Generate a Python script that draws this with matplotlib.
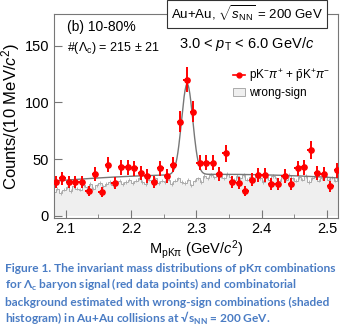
import numpy as np
import matplotlib
matplotlib.use("Agg")
import matplotlib.pyplot as plt
from matplotlib.lines import Line2D
from matplotlib.patches import Patch

plt.rcParams['font.family'] = ['Liberation Sans', 'DejaVu Sans']
plt.rcParams['mathtext.fontset'] = 'custom'
plt.rcParams['mathtext.rm'] = 'Liberation Sans'
plt.rcParams['mathtext.it'] = 'Liberation Sans:italic'
plt.rcParams['mathtext.bf'] = 'Liberation Sans:bold'

# Right-sign pK pi candidates, 10 MeV bins
mass = np.round(np.arange(2.085, 2.516, 0.01), 3)
counts = [30, 33, 30, 30, 30, 22, 37, 21, 45, 29,
          43, 43, 42, 38, 35, 30, 42, 35, 45, 83,
          120, 92, 47, 47, 47, 37, 55, 30, 29, 22,
          32, 36, 36, 28, 28, 35, 28, 42, 43, 58,
          38, 37, 26, 40]

# Wrong-sign background, 5 MeV bins (scaled)
ws_edges = np.round(np.arange(2.08, 2.5201, 0.005), 3)
ws_counts = [21, 24, 20, 23, 25, 22, 26, 24, 23,
             27, 25, 28, 24, 27, 29, 26, 28, 30, 27, 29, 31, 28, 30, 32,
             29, 31, 33, 30, 28, 32, 30, 33, 29, 31, 30, 32, 28, 31, 33, 30, 29, 32, 27, 31,
             33, 30, 35, 33, 36, 34, 38, 35, 33, 37, 34, 32,
             35, 33, 36, 32, 34, 31, 35, 33, 30, 34, 32, 35, 33, 31, 34, 32,
             36, 33, 31, 34, 32, 35, 30, 33, 34, 31, 33, 35, 32, 34, 31, 33]

# fit: gaussian peak + 2nd order polynomial background
fit_mean, fit_sigma, fit_amp = 2.286, 0.0085, 80.0
bkg_c0, bkg_c1, bkg_c2 = 36.5, 6.4, -94.4

fig = plt.figure(figsize=(3.5, 3.35), dpi=100)
ax = fig.add_axes([0.154, 0.349, 0.812, 0.609])

# wrong-sign shaded histogram
ws = np.array(ws_counts, dtype=float)
ax.stairs(ws, ws_edges, fill=True, color='#efefef', zorder=1)
ax.stairs(ws, ws_edges, color='#aaaaaa', lw=0.7, zorder=2)
ws_centers = 0.5 * (ws_edges[1:] + ws_edges[:-1])
ax.errorbar(ws_centers, ws, yerr=1.5, fmt='none', ecolor='#aaaaaa',
            elinewidth=0.6, zorder=2)

# fit curve
xf = np.linspace(2.08, 2.52, 600)
d = xf - 2.3
yf = bkg_c0 + bkg_c1 * d + bkg_c2 * d**2 + \
    fit_amp * np.exp(-0.5 * ((xf - fit_mean) / fit_sigma) ** 2)
ax.plot(xf, yf, color='#777777', lw=1.0, zorder=3)

# data points
y = np.array(counts, dtype=float)
ax.errorbar(mass, y, yerr=np.sqrt(y), xerr=0.005, fmt='o', color='red',
            ms=3.8, elinewidth=1.4, capsize=0, zorder=4)

ax.set_xlim(2.082, 2.517)
ax.set_ylim(-2, 178)
ax.set_xticks([2.1, 2.2, 2.3, 2.4, 2.5])
ax.set_xticks(np.arange(2.15, 2.5, 0.1), minor=True)
ax.set_yticks([0, 50, 100, 150])
ax.tick_params(direction='in', which='both', labelsize=10.5, color='#777777')
ax.tick_params(which='major', length=6)
ax.tick_params(which='minor', length=3)
ax.tick_params(axis='x', pad=3)
for s in ax.spines.values():
    s.set_color('#777777')

ax.set_xlabel(r'M$_{\rm pK\pi}$ (GeV/$c^2$)', fontsize=10.5, labelpad=1)
ax.set_ylabel(r'Counts/(10 MeV/$c^2$)', fontsize=12, labelpad=2)

ax.text(0.045, 0.97, '(b) 10-80%', transform=ax.transAxes, fontsize=10,
        va='top', ha='left')
ax.text(0.045, 0.835, r'#($\Lambda_{\rm c}$) = 215 $\pm$ 21', transform=ax.transAxes,
        fontsize=9, va='center', ha='left')
ax.text(0.68, 1.0, r'Au+Au, $\sqrt{s_{\rm NN}}$ = 200 GeV', transform=ax.transAxes,
        fontsize=9.5, va='center', ha='center',
        bbox=dict(boxstyle='square,pad=0.3', fc='white', ec='#333333', lw=0.8))
ax.text(0.68, 0.855, r'3.0 < $p_{\rm T}$ < 6.0 GeV/$c$', transform=ax.transAxes,
        fontsize=10.5, va='center', ha='center')

handles = [Line2D([], [], color='red', marker='o', ms=3.5, lw=1.2),
           Patch(facecolor='#efefef', edgecolor='#aaaaaa', lw=0.7)]
labels = [r'pK$^{-}\pi^{+}$ + $\bar{\rm p}$K$^{+}\pi^{-}$', 'wrong-sign']
ax.legend(handles, labels, loc='upper right', bbox_to_anchor=(1.0, 0.78),
          frameon=False, fontsize=8.5, handlelength=1.0, handletextpad=0.3,
          labelspacing=0.25, borderaxespad=0.3)

cap_font = ['Lato', 'DejaVu Sans']
cap_lines = ['Figure 1. The invariant mass distributions of pK\u03c0 combinations',
             'for \u039b$_\\mathregular{c}$ baryon signal (red data points) and combinatorial',
             'background estimated with wrong-sign combinations (shaded',
             'histogram) in Au+Au collisions at \u221as$_\\mathregular{NN}$ = 200 GeV.']
cap_y = [268, 285, 302, 318]
for line, yy in zip(cap_lines, cap_y):
    fig.text(5 / 350, 1 - yy / 335, line, family=cap_font, fontsize=8.6,
             fontweight='bold', color='#4a7cc4', va='center', ha='left')

fig.savefig('out.png', dpi=100)
